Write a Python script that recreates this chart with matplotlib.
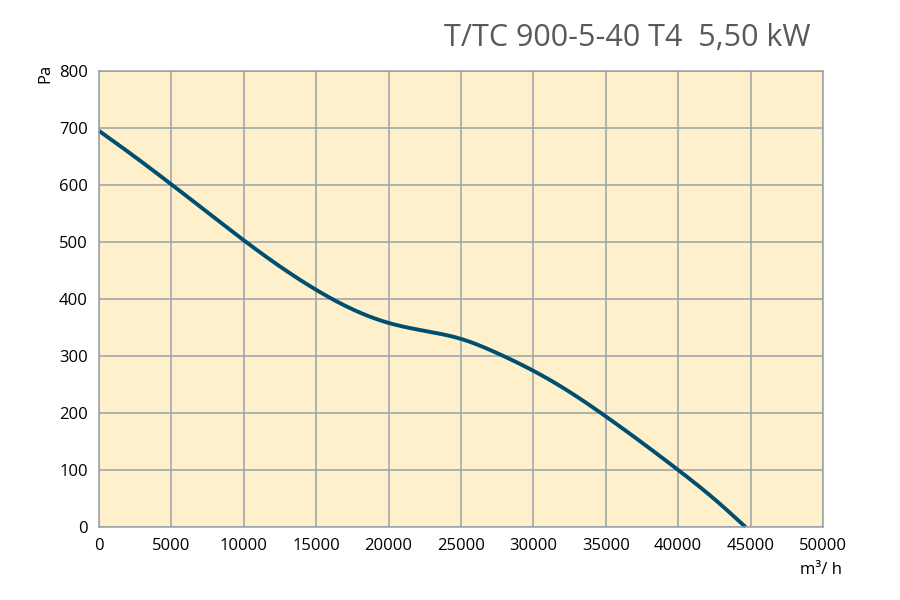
import matplotlib
matplotlib.use("Agg")
import matplotlib.pyplot as plt
import numpy as np

plt.rcParams['font.family'] = ['Open Sans', 'DejaVu Sans']

flow = [0, 2500, 5000, 7500, 10000, 12500, 15000, 17500, 20000, 22500,
        25000, 27500, 30000, 32500, 35000, 37500, 40000, 42500, 44650]
pressure = [695, 649, 601, 552, 503, 457, 416, 382, 358, 344,
            330, 305, 274, 237, 194, 148, 100, 49, 0]
x_ticks = [0, 5000, 10000, 15000, 20000, 25000, 30000, 35000, 40000, 45000, 50000]
y_ticks = [0, 100, 200, 300, 400, 500, 600, 700, 800]
title = "T/TC 900-5-40 T4  5,50 kW"


def natural_spline(x, y, n=400):
    x = np.asarray(x, float)
    y = np.asarray(y, float)
    m = len(x)
    h = np.diff(x)
    A = np.zeros((m, m))
    b = np.zeros(m)
    A[0, 0] = 1
    A[-1, -1] = 1
    for i in range(1, m - 1):
        A[i, i - 1] = h[i - 1]
        A[i, i] = 2 * (h[i - 1] + h[i])
        A[i, i + 1] = h[i]
        b[i] = 3 * ((y[i + 1] - y[i]) / h[i] - (y[i] - y[i - 1]) / h[i - 1])
    c = np.linalg.solve(A, b)
    xs = np.linspace(x[0], x[-1], n)
    idx = np.clip(np.searchsorted(x, xs) - 1, 0, m - 2)
    dx = xs - x[idx]
    bb = (y[idx + 1] - y[idx]) / h[idx] - h[idx] * (2 * c[idx] + c[idx + 1]) / 3
    d = (c[idx + 1] - c[idx]) / (3 * h[idx])
    ys = y[idx] + bb * dx + c[idx] * dx ** 2 + d * dx ** 3
    return xs, ys


fig = plt.figure(figsize=(9, 6), dpi=100)
ax = fig.add_axes([0.11, 0.1217, 0.8044, 0.76])
ax.set_facecolor('#fef0cb')
ax.set_xlim(0, 50000)
ax.set_ylim(0, 800)
ax.set_xticks(x_ticks)
ax.set_yticks(y_ticks)
ax.set_xticklabels([str(t) for t in x_ticks])
ax.set_yticklabels([str(t) for t in y_ticks])
ax.grid(True, color='#9aa1aa', linewidth=1.1)
ax.set_axisbelow(True)
for s in ax.spines.values():
    s.set_color('#9aa1aa')
    s.set_linewidth(1.1)
ax.tick_params(length=0, labelsize=12, colors='black', pad=8)
ax.tick_params(axis='x', pad=8)

xs, ys = natural_spline(flow, pressure)
ax.plot(xs, ys, color='#004e70', linewidth=2.8, solid_capstyle='butt',
        solid_joinstyle='round', clip_on=False)

fig.text(0.9, 0.937, title, ha='right', va='center', fontsize=22, color='#58595b')
fig.text(0.05, 0.878, 'Pa', rotation=90, ha='center', va='center', fontsize=12)
fig.text(0.912, 0.05, 'm³/ h', ha='center', va='center', fontsize=12)

fig.savefig('out.png', dpi=100)
